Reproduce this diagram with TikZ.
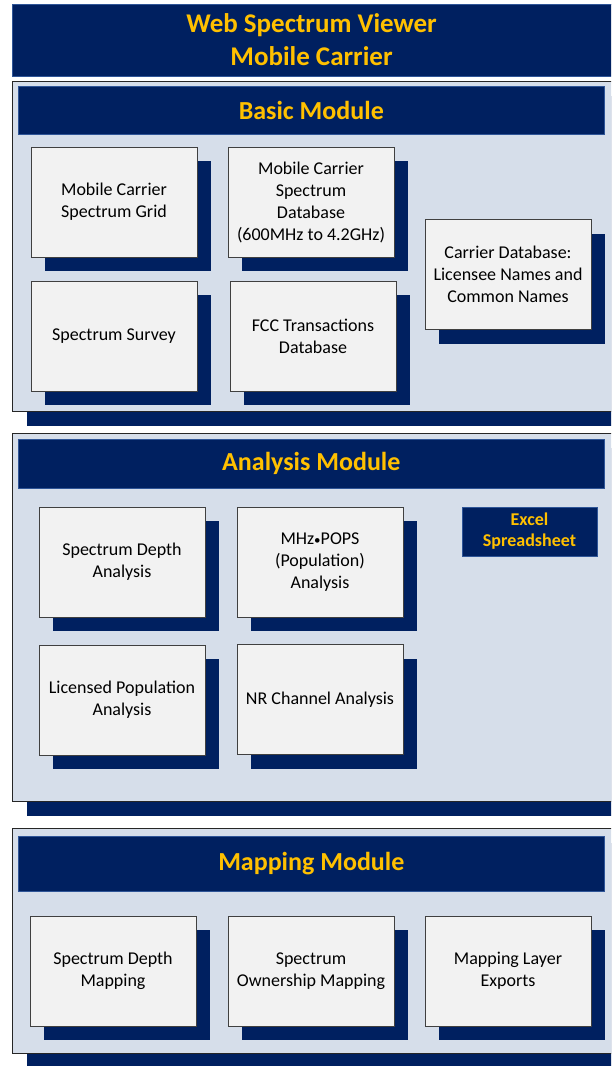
\documentclass[tikz,border=0pt]{standalone}
\usepackage{fontspec}
\setmainfont{Carlito}
\usetikzlibrary{shadows}
\definecolor{navy}{HTML}{002060}
\definecolor{gold}{HTML}{FFC000}
\definecolor{panelbg}{HTML}{D6DEEA}
\definecolor{boxbg}{HTML}{F2F2F2}
\definecolor{edgeblue}{HTML}{2F5597}
\begin{document}
\begin{tikzpicture}[x=1pt,y=-1pt,
  shd/.style={drop shadow={shadow xshift=14pt,shadow yshift=-14pt,fill=navy,opacity=1}},
  panel/.style={draw=black!85,line width=1pt,fill=panelbg,shd,anchor=north west,inner sep=0pt,minimum width=620pt},
  header/.style={draw=edgeblue,line width=0.6pt,fill=navy,anchor=north west,inner sep=0pt,minimum width=586pt,text=gold,font=\fontsize{26}{32}\selectfont\bfseries},
  item/.style={draw=black!75,line width=0.8pt,fill=boxbg,shd,minimum width=166pt,minimum height=110pt,inner sep=0pt,align=center,font=\fontsize{18}{22}\selectfont},
  sheet/.style={draw=edgeblue,line width=0.6pt,fill=navy,minimum width=135pt,minimum height=49pt,inner sep=0pt,align=center,text=gold,font=\fontsize{18}{21}\selectfont\bfseries},
]
\fill[white] (0,0) rectangle (611,1066);
\path[use as bounding box, clip] (0,0) rectangle (611,1066);

% title
\node[draw=edgeblue,line width=0.6pt,fill=navy,anchor=north west,inner sep=0pt,minimum width=620pt,minimum height=72pt] (title) at (12,4) {};
\node[align=center,text=gold,font=\fontsize{27}{33}\selectfont\bfseries,inner sep=0pt] (titletext) at (311.5,40) {Web Spectrum Viewer\\Mobile Carrier};

% basic module
\node[panel,minimum height=330pt] (basic) at (12,81) {};
\node[header,minimum height=48pt] (basichead) at (18,86) {Basic Module};
\node[item] (grid) at (114,202) {Mobile Carrier\\Spectrum Grid};
\node[item] (specdb) at (311,202) {Mobile Carrier\\Spectrum\\Database\\(600MHz to 4.2GHz)};
\node[item] (survey) at (114,336) {Spectrum Survey};
\node[item] (fcc) at (313,336) {FCC Transactions\\Database};
\node[item] (carrier) at (508,274.5) {Carrier Database:\\Licensee Names and\\Common Names};

% analysis module
\node[panel,minimum height=368pt] (analysis) at (12,433) {};
\node[header,minimum height=49pt] (analysishead) at (18,439) {Analysis Module};
\node[item] (sda) at (122,562) {Spectrum Depth\\Analysis};
\node[item] (mhz) at (320,562) {MHz{\fontsize{13}{13}\selectfont•}POPS\\(Population)\\Analysis};
\node[item] (lpa) at (122,700) {Licensed Population\\Analysis};
\node[item] (nr) at (320,699.5) {NR Channel Analysis};
\node[sheet] (excel) at (529.5,531.5) {Excel\\Spreadsheet};

% mapping module
\node[panel,minimum height=225pt] (mapping) at (12,828) {};
\node[header,minimum height=55pt] (mappinghead) at (18,836) {Mapping Module};
\node[item] (sdm) at (113,971) {Spectrum Depth\\Mapping};
\node[item] (som) at (311,971) {Spectrum\\Ownership Mapping};
\node[item] (mle) at (508,971) {Mapping Layer\\Exports};
\end{tikzpicture}
\end{document}
